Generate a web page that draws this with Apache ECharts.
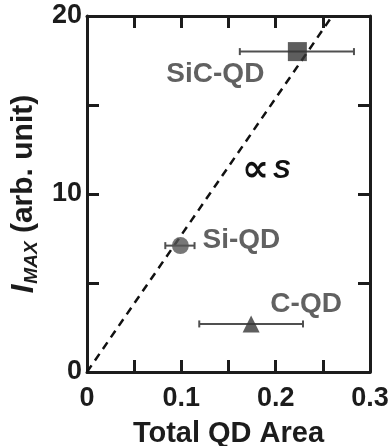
<!DOCTYPE html>
<html>
<head>
<meta charset="utf-8">
<script src="https://cdn.jsdelivr.net/npm/echarts@6/dist/echarts.min.js"></script>
<style>
  html, body { margin: 0; padding: 0; background: #fff; }
  #chart { width: 391px; height: 446px; }
</style>
</head>
<body>
<div id="chart"></div>
<script>
// Quantum-dot samples: total QD area vs. peak intensity
const sampleNames = ['SiC-QD', 'Si-QD', 'C-QD'];
const areaValues = [0.223, 0.099, 0.174];
const intensityValues = [18.0, 7.1, 2.7];
const areaLow = [0.162, 0.083, 0.119];
const areaHigh = [0.283, 0.114, 0.229];
const markerSymbols = ['rect', 'circle', 'triangle'];

// Proportional guide line (I ∝ S)
const guideLine = [[0, 0], [0.26, 20]];
const guideLabelAt = [0.19, 11.3];

// Axis ranges and labelled ticks
const xRange = [0, 0.3];
const yRange = [0, 20];
const xTickLabels = ['0', '0.1', '0.2', '0.3'];
const yTickLabels = ['0', '10', '20'];

const FONT = "'Liberation Sans', Arial, sans-serif";
const AXIS_COLOR = '#1c1c1c';
const TEXT_COLOR = '#1c1c1c';

const markerColors = ['#363636', '#555555', '#363636'];
const markerSizes = [19, 17, 17];
const labelOffsets = [[-82, 23], [61, -5], [55, -20]];

const chart = echarts.init(document.getElementById('chart'), null, { renderer: 'canvas' });

function xLabel(v) {
  const s = (Math.round(v * 100) / 100).toString();
  return xTickLabels.indexOf(s) >= 0 ? s : '';
}
function yLabel(v) {
  const s = String(Math.round(v));
  return yTickLabels.indexOf(s) >= 0 ? s : '';
}

const baseAxis = {
  axisLine: { show: true, onZero: false, lineStyle: { color: AXIS_COLOR, width: 3 } },
  axisTick: { show: true, inside: true, length: 12, lineStyle: { color: AXIS_COLOR, width: 3 } },
  splitLine: { show: false }
};

const scatterSeries = sampleNames.map((name, i) => ({
  type: 'scatter',
  name: name,
  symbol: markerSymbols[i],
  symbolSize: markerSizes[i],
  itemStyle: { color: markerColors[i] },
  z: 5,
  data: [[areaValues[i], intensityValues[i]]],
  label: {
    show: true,
    formatter: name,
    position: 'inside',
    offset: labelOffsets[i],
    color: '#3a3a3a',
    fontFamily: FONT,
    fontWeight: 'bold',
    fontSize: 28
  }
}));

const errorData = sampleNames.map((n, i) => [areaLow[i], areaHigh[i], intensityValues[i]]);

const option = {
  animation: false,
  backgroundColor: '#ffffff',
  grid: { left: 87, right: 21, top: 16, bottom: 74, containLabel: false, outerBoundsMode: 'none' },
  xAxis: [
    Object.assign({}, baseAxis, {
      type: 'value', position: 'bottom',
      min: xRange[0], max: xRange[1], interval: 0.05,
      name: 'Total QD Area', nameLocation: 'middle', nameGap: 47,
      nameTextStyle: { color: TEXT_COLOR, fontFamily: FONT, fontWeight: 'bold', fontSize: 29 },
      axisLabel: {
        formatter: xLabel, margin: 13, showMinLabel: true, showMaxLabel: true,
        color: TEXT_COLOR, fontFamily: FONT, fontWeight: 'bold', fontSize: 27
      }
    }),
    Object.assign({}, baseAxis, {
      type: 'value', position: 'top',
      min: xRange[0], max: xRange[1], interval: 0.05,
      axisLabel: { show: false }
    })
  ],
  yAxis: [
    Object.assign({}, baseAxis, {
      type: 'value', position: 'left',
      min: yRange[0], max: yRange[1], interval: 5,
      name: '{i|I}{s|MAX}{n| (arb. unit)}', nameLocation: 'middle', nameGap: 46,
      nameTextStyle: {
        color: TEXT_COLOR, fontFamily: FONT, fontWeight: 'bold', fontSize: 30,
        rich: {
          i: { fontFamily: FONT, fontWeight: 'bold', fontStyle: 'italic', fontSize: 31, color: TEXT_COLOR },
          s: { fontFamily: FONT, fontWeight: 'bold', fontStyle: 'italic', fontSize: 19, color: TEXT_COLOR, padding: [15, 0, 0, 1] },
          n: { fontFamily: FONT, fontWeight: 'bold', fontSize: 30, color: TEXT_COLOR }
        }
      },
      axisLabel: {
        formatter: yLabel, margin: 5, showMinLabel: true, showMaxLabel: true,
        color: TEXT_COLOR, fontFamily: FONT, fontWeight: 'bold', fontSize: 27
      }
    }),
    Object.assign({}, baseAxis, {
      type: 'value', position: 'right',
      min: yRange[0], max: yRange[1], interval: 5,
      axisLabel: { show: false }
    })
  ],
  series: [
    {
      type: 'line',
      data: guideLine,
      symbol: 'none',
      silent: true,
      z: 3,
      lineStyle: { color: '#111', width: 2.5, type: [8, 6] },
      markPoint: {
        symbol: 'circle', symbolSize: 0,
        data: [{ coord: guideLabelAt }],
        label: {
          show: true, position: 'inside',
          formatter: '{p|∝}{g| }{s|S}',
          rich: {
            p: { fontFamily: "'DejaVu Sans'", fontWeight: 'bold', fontSize: 38, color: '#111' },
            g: { fontFamily: FONT, fontSize: 14 },
            s: { fontFamily: FONT, fontWeight: 'bold', fontStyle: 'italic', fontSize: 26, color: '#111' }
          }
        }
      }
    },
    {
      type: 'custom',
      z: 4,
      data: errorData,
      renderItem: function (params, api) {
        const lo = api.coord([api.value(0), api.value(2)]);
        const hi = api.coord([api.value(1), api.value(2)]);
        const cap = 3.5;
        const style = { stroke: '#505050', lineWidth: 2 };
        return {
          type: 'group',
          children: [
            { type: 'line', shape: { x1: lo[0], y1: lo[1], x2: hi[0], y2: hi[1] }, style: style },
            { type: 'line', shape: { x1: lo[0], y1: lo[1] - cap, x2: lo[0], y2: lo[1] + cap }, style: style },
            { type: 'line', shape: { x1: hi[0], y1: hi[1] - cap, x2: hi[0], y2: hi[1] + cap }, style: style }
          ]
        };
      }
    }
  ].concat(scatterSeries)
};

chart.setOption(option);
</script>
</body>
</html>
